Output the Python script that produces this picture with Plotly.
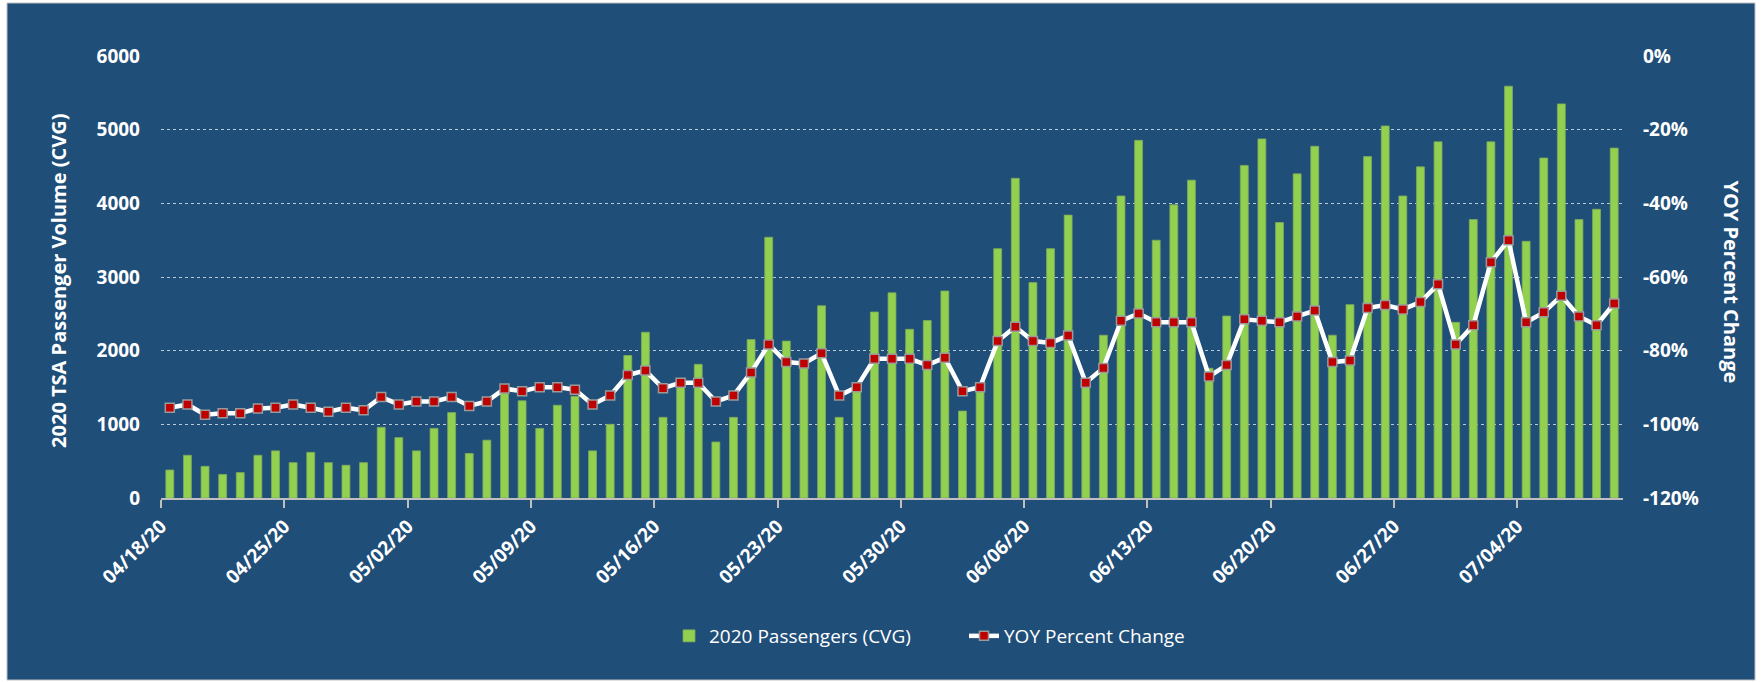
import pandas as pd
import plotly.graph_objects as go

# ---------------- data ----------------
start_date = "2020-04-18"
n_days = 83
dates = [d.strftime("%Y-%m-%d") for d in pd.date_range(start_date, periods=n_days, freq="D")]

passengers = [
    380, 580, 430, 320, 345, 580, 640, 480, 620, 480,
    445, 480, 960, 820, 640, 945, 1160, 605, 785, 1480,
    1320, 945, 1260, 1380, 640, 1000, 1935, 2250, 1095, 1570,
    1815, 760, 1095, 2150, 3540, 2130, 1830, 2610, 1095, 1510,
    2525, 2785, 2290, 2410, 2810, 1180, 1510, 3385, 4340, 2925,
    3385, 3840, 1570, 2210, 4100, 4855, 3500, 3980, 4315, 1760,
    2470, 4515, 4875, 3740, 4400, 4775, 2210, 2625, 4635, 5050,
    4100, 4495, 4835, 2385, 3780, 4835, 5590, 3485, 4615, 5350,
    3780, 3920, 4750,
]

yoy_pct = [
    -95.5, -94.6, -97.4, -97.0, -97.0, -95.7, -95.5, -94.6, -95.5, -96.6,
    -95.5, -96.2, -92.6, -94.6, -93.8, -93.8, -92.6, -95.0, -93.8, -90.3,
    -91.0, -89.9, -89.9, -90.6, -94.6, -92.2, -86.6, -85.4, -90.2, -88.7,
    -88.7, -93.8, -92.2, -85.9, -78.3, -83.1, -83.5, -80.7, -92.2, -89.9,
    -82.2, -82.2, -82.2, -83.9, -81.9, -91.0, -89.9, -77.4, -73.5, -77.4,
    -77.9, -75.9, -88.7, -84.7, -71.9, -69.9, -72.3, -72.3, -72.3, -87.0,
    -83.9, -71.5, -71.9, -72.3, -70.7, -69.1, -83.1, -82.7, -68.4, -67.6,
    -68.8, -66.8, -62.0, -78.3, -73.1, -56.0, -50.0, -72.3, -69.6, -65.1,
    -70.7, -73.1, -67.2,
]

x_tick_dates = ["2020-04-18", "2020-04-25", "2020-05-02", "2020-05-09", "2020-05-16",
                "2020-05-23", "2020-05-30", "2020-06-06", "2020-06-13", "2020-06-20",
                "2020-06-27", "2020-07-04"]
x_tick_labels = ["04/18/20", "04/25/20", "05/02/20", "05/09/20", "05/16/20", "05/23/20",
                 "05/30/20", "06/06/20", "06/13/20", "06/20/20", "06/27/20", "07/04/20"]

left_tick_vals = [0, 1000, 2000, 3000, 4000, 5000, 6000]
right_tick_vals = [-120, -100, -80, -60, -40, -20, 0]
right_tick_labels = ["-120%", "-100%", "-80%", "-60%", "-40%", "-20%", "0%"]

bar_name = "2020 Passengers (CVG)"
line_name = "YOY Percent Change"
left_title = "2020 TSA Passenger Volume (CVG)"
right_title = "YOY Percent Change"

# ---------------- style ----------------
W, H = 1763, 682
ML, MR, MT, MB = 161, 140, 56, 184
PW, PH = W - ML - MR, H - MT - MB
BG = "#1F4E79"
GREEN = "#92D050"
FONT = "Open Sans"
DAY_MS = 86400000


def px_to_paper_x(px):
    return (px - ML) / PW


def px_to_paper_y(py):
    return (H - MB - py) / PH


fig = go.Figure()

fig.add_trace(go.Bar(
    x=dates, y=passengers, name=bar_name,
    xperiod=DAY_MS, xperiodalignment="middle",
    marker=dict(color=GREEN, line=dict(color="#7FA85A", width=0.8)),
    yaxis="y",
))

fig.add_trace(go.Scatter(
    x=dates, y=yoy_pct, name=line_name, mode="lines+markers",
    xperiod=DAY_MS, xperiodalignment="middle",
    line=dict(color="white", width=4.5),
    marker=dict(symbol="square", size=9, color="#C00000",
                line=dict(color="#9A9A9A", width=1.5)),
    yaxis="y2",
))

# Chart background panel with a thin gray border
fig.add_shape(
    type="rect", xref="paper", yref="paper", layer="below",
    x0=px_to_paper_x(7), x1=px_to_paper_x(1755),
    y0=px_to_paper_y(680), y1=px_to_paper_y(3),
    fillcolor=BG, line=dict(color="#BFBFBF", width=1),
)

tick_font = dict(family=FONT, size=19, color="white", weight="bold")

fig.update_layout(
    width=W, height=H,
    margin=dict(l=ML, r=MR, t=MT, b=MB, pad=0, autoexpand=False),
    paper_bgcolor="white",
    plot_bgcolor="rgba(0,0,0,0)",
    bargap=0.55,
    showlegend=True,
    legend=dict(
        orientation="h", xref="paper", yref="paper",
        x=px_to_paper_x(669), xanchor="left",
        y=px_to_paper_y(636), yanchor="middle",
        font=dict(family=FONT, size=19, color="white"),
        bgcolor="rgba(0,0,0,0)",
        traceorder="normal",
        entrywidth=250, entrywidthmode="pixels",
    ),
    xaxis=dict(
        type="date", automargin=False,
        range=[dates[0], pd.Timestamp(dates[-1]) + pd.Timedelta(days=1)],
        tickmode="array", tickvals=x_tick_dates, ticktext=x_tick_labels,
        tickangle=-45, tickfont=tick_font,
        showgrid=False, zeroline=False,
        showline=True, linecolor="#BFBFBF", linewidth=1.5,
        ticks="outside", ticklen=8, tickwidth=1.5, tickcolor="#BFBFBF",
    ),
    yaxis=dict(
        range=[0, 6000], tickmode="array", tickvals=left_tick_vals, automargin=False,
        tickfont=tick_font, showgrid=True, gridcolor="rgba(225,232,240,0.8)",
        griddash="dot", gridwidth=1, zeroline=False, showline=False,
        ticks="", ticklabelstandoff=20,
    ),
    yaxis2=dict(
        range=[-120, 0], overlaying="y", side="right", automargin=False,
        tickmode="array", tickvals=right_tick_vals, ticktext=right_tick_labels,
        tickfont=tick_font, showgrid=False, zeroline=False, showline=False,
        ticks="", ticklabelstandoff=19,
    ),
    annotations=[
        dict(text=left_title, xref="paper", yref="paper",
             x=px_to_paper_x(58.5), y=0.49, textangle=-90, showarrow=False,
             xanchor="center", yanchor="middle",
             font=dict(family=FONT, size=20, color="white", weight="bold")),
        dict(text=right_title, xref="paper", yref="paper",
             x=px_to_paper_x(1732), y=0.49, textangle=90, showarrow=False,
             xanchor="center", yanchor="middle",
             font=dict(family=FONT, size=20, color="white", weight="bold")),
    ],
)

fig.write_html(
    "out.html",
    config={"displayModeBar": False},
    post_script="document.body.style.margin='0px';document.body.style.overflow='hidden';",
)
